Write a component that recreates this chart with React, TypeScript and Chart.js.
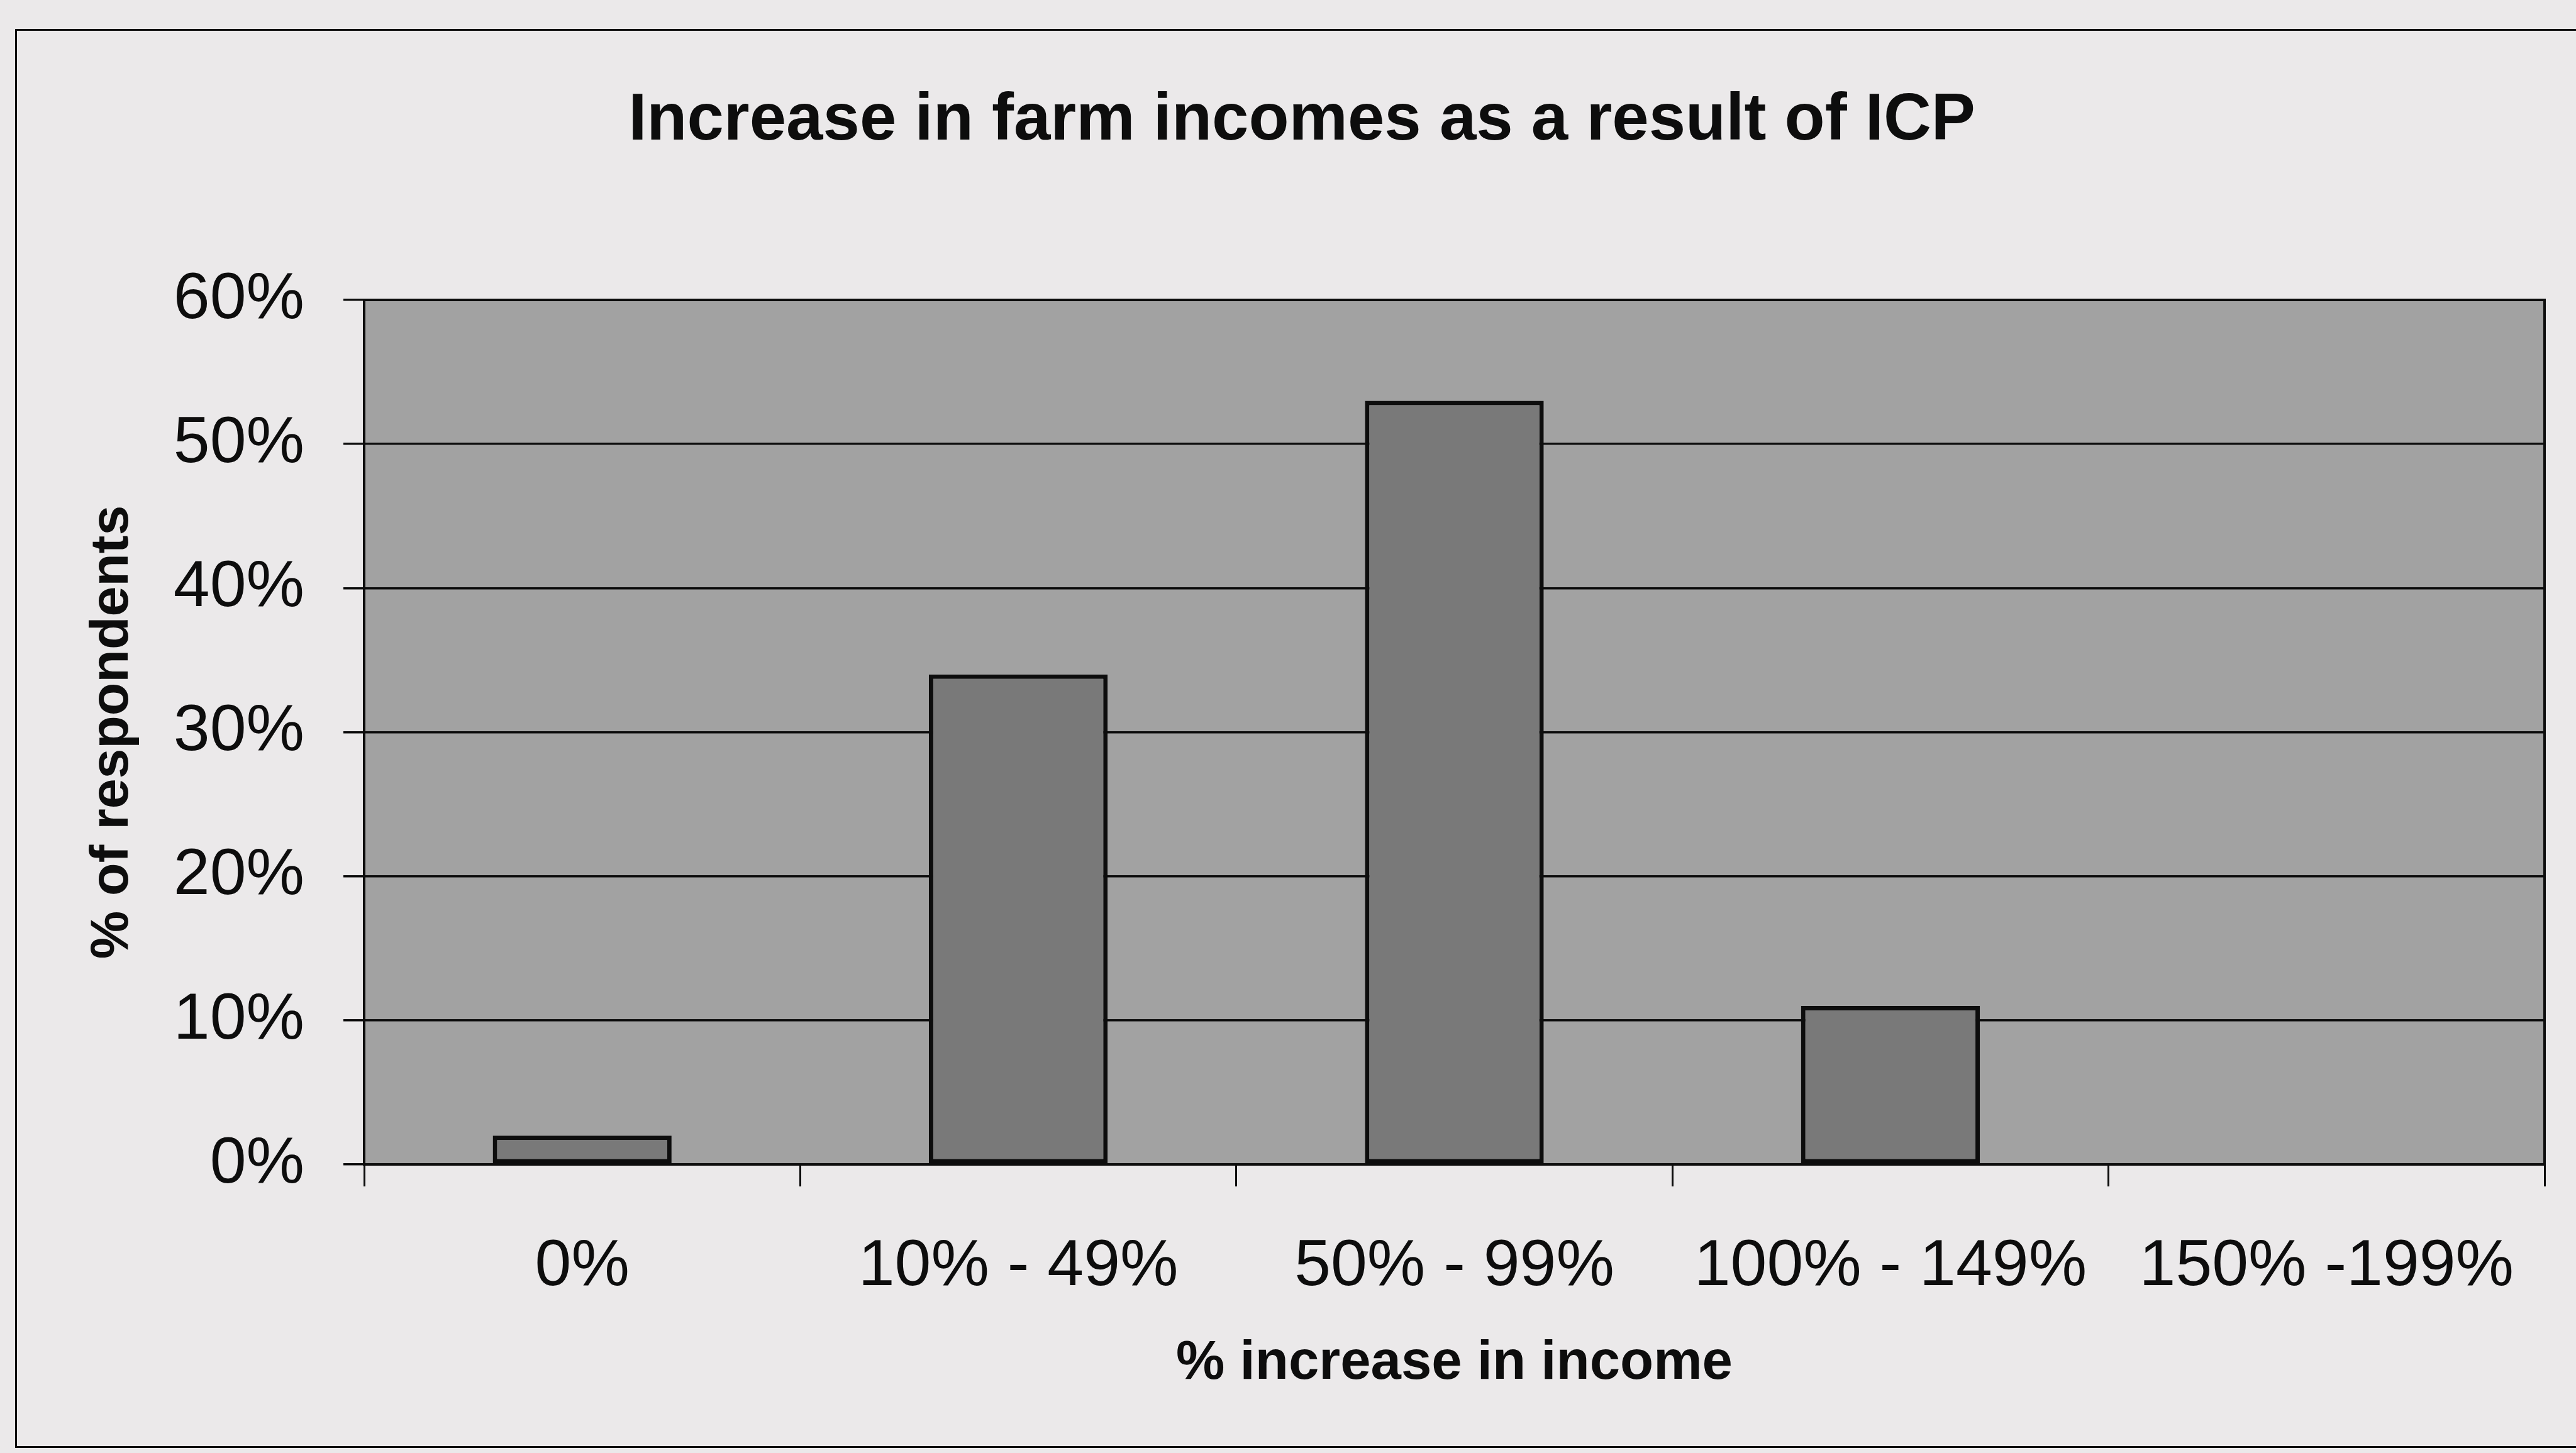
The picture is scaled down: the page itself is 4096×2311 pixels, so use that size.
import React, { useEffect, useRef } from 'react';
import { Chart, registerables } from 'chart.js';

Chart.register(...registerables);

// ---- data ----
const CATEGORIES = ['0%', '10% - 49%', '50% - 99%', '100% - 149%', '150% -199%'];
const RESPONDENTS = [2, 34, 53, 11, 0];
const Y_MIN = 0;
const Y_MAX = 60;
const Y_STEP = 10;
const TITLE = 'Increase in farm incomes as a result of ICP';
const X_TITLE = '% increase in income';
const Y_TITLE = '% of respondents';

// ---- style ----
const W = 4096;
const H = 2311;
const FONT = "'Liberation Sans', Arial, Helvetica, sans-serif";
const PAGE_BG = '#ebe9ea';
const PLOT_BG = '#a2a2a2';
const BAR_FILL = '#797979';
const INK = '#0d0d0d';

const plotFrame = {
  id: 'plotFrame',
  beforeDraw(chart: any) {
    const { ctx, chartArea: a } = chart;
    ctx.save();
    ctx.fillStyle = PLOT_BG;
    ctx.fillRect(a.left, a.top, a.right - a.left, a.bottom - a.top);
    ctx.restore();
  },
  afterDraw(chart: any) {
    const { ctx, chartArea: a } = chart;
    ctx.save();
    ctx.strokeStyle = INK;
    ctx.lineWidth = 4;
    ctx.strokeRect(a.left, a.top, a.right - a.left, a.bottom - a.top);
    ctx.restore();
  },
};

export default function App() {
  const ref = useRef<HTMLCanvasElement>(null);

  useEffect(() => {
    document.body.style.margin = '0';
    const canvas = ref.current!;
    const chart = new Chart(canvas, {
      type: 'bar',
      data: {
        labels: CATEGORIES,
        datasets: [
          {
            data: RESPONDENTS,
            backgroundColor: BAR_FILL,
            borderColor: INK,
            borderWidth: 7,
            borderSkipped: false,
            barPercentage: 0.41,
            categoryPercentage: 1,
          },
        ],
      },
      options: {
        responsive: false,
        maintainAspectRatio: false,
        animation: false,
        devicePixelRatio: 1,
        layout: { padding: { left: 94, right: 50, top: 0, bottom: 0 } },
        plugins: {
          legend: { display: false },
          tooltip: { enabled: false },
          title: {
            display: true,
            text: TITLE,
            color: INK,
            font: { family: FONT, size: 105, weight: 'bold', lineHeight: 1.2 },
            padding: { top: 130, bottom: 221 },
          },
        },
        scales: {
          x: {
            type: 'category',
            offset: true,
            afterFit: (s: any) => {
              s.height = 459;
            },
            grid: {
              offset: true,
              drawOnChartArea: false,
              drawTicks: true,
              tickLength: 35,
              color: INK,
              tickColor: INK,
              lineWidth: 3,
            },
            border: { display: true, color: INK, width: 4 },
            ticks: {
              color: INK,
              padding: 66,
              maxRotation: 0,
              autoSkip: false,
              font: { family: FONT, size: 104, lineHeight: 1.2 },
            },
            title: {
              display: true,
              text: X_TITLE,
              color: INK,
              font: { family: FONT, size: 87, weight: 'bold', lineHeight: 1.2 },
              padding: { top: 0, bottom: 90 },
            },
          },
          y: {
            min: Y_MIN,
            max: Y_MAX,
            afterFit: (s: any) => {
              s.width = 485;
            },
            grid: {
              drawOnChartArea: true,
              drawTicks: true,
              tickLength: 33,
              color: INK,
              tickColor: INK,
              lineWidth: 3.5,
            },
            border: { display: true, color: INK, width: 4 },
            ticks: {
              stepSize: Y_STEP,
              color: INK,
              padding: 62,
              font: { family: FONT, size: 104, lineHeight: 1.2 },
              callback: (v: any) => `${v}%`,
            },
            title: {
              display: true,
              text: Y_TITLE,
              color: INK,
              font: { family: FONT, size: 86, weight: 'bold', lineHeight: 1.2 },
              padding: { top: 34, bottom: 0 },
            },
          },
        },
      },
      plugins: [plotFrame],
    });
    return () => chart.destroy();
  }, []);

  return (
    <div
      style={{
        position: 'fixed',
        left: 0,
        top: 0,
        width: W,
        height: H,
        overflow: 'hidden',
        background: PAGE_BG,
      }}
    >
      <div
        style={{
          position: 'absolute',
          left: 24,
          top: 46,
          width: W + 300,
          height: 2303 - 46,
          borderLeft: `3px solid ${INK}`,
          borderTop: `3px solid ${INK}`,
          borderBottom: `3px solid ${INK}`,
          boxSizing: 'border-box',
        }}
      />
      <canvas
        ref={ref}
        width={W}
        height={H}
        style={{ position: 'absolute', left: 0, top: 0, width: W, height: H }}
      />
    </div>
  );
}
